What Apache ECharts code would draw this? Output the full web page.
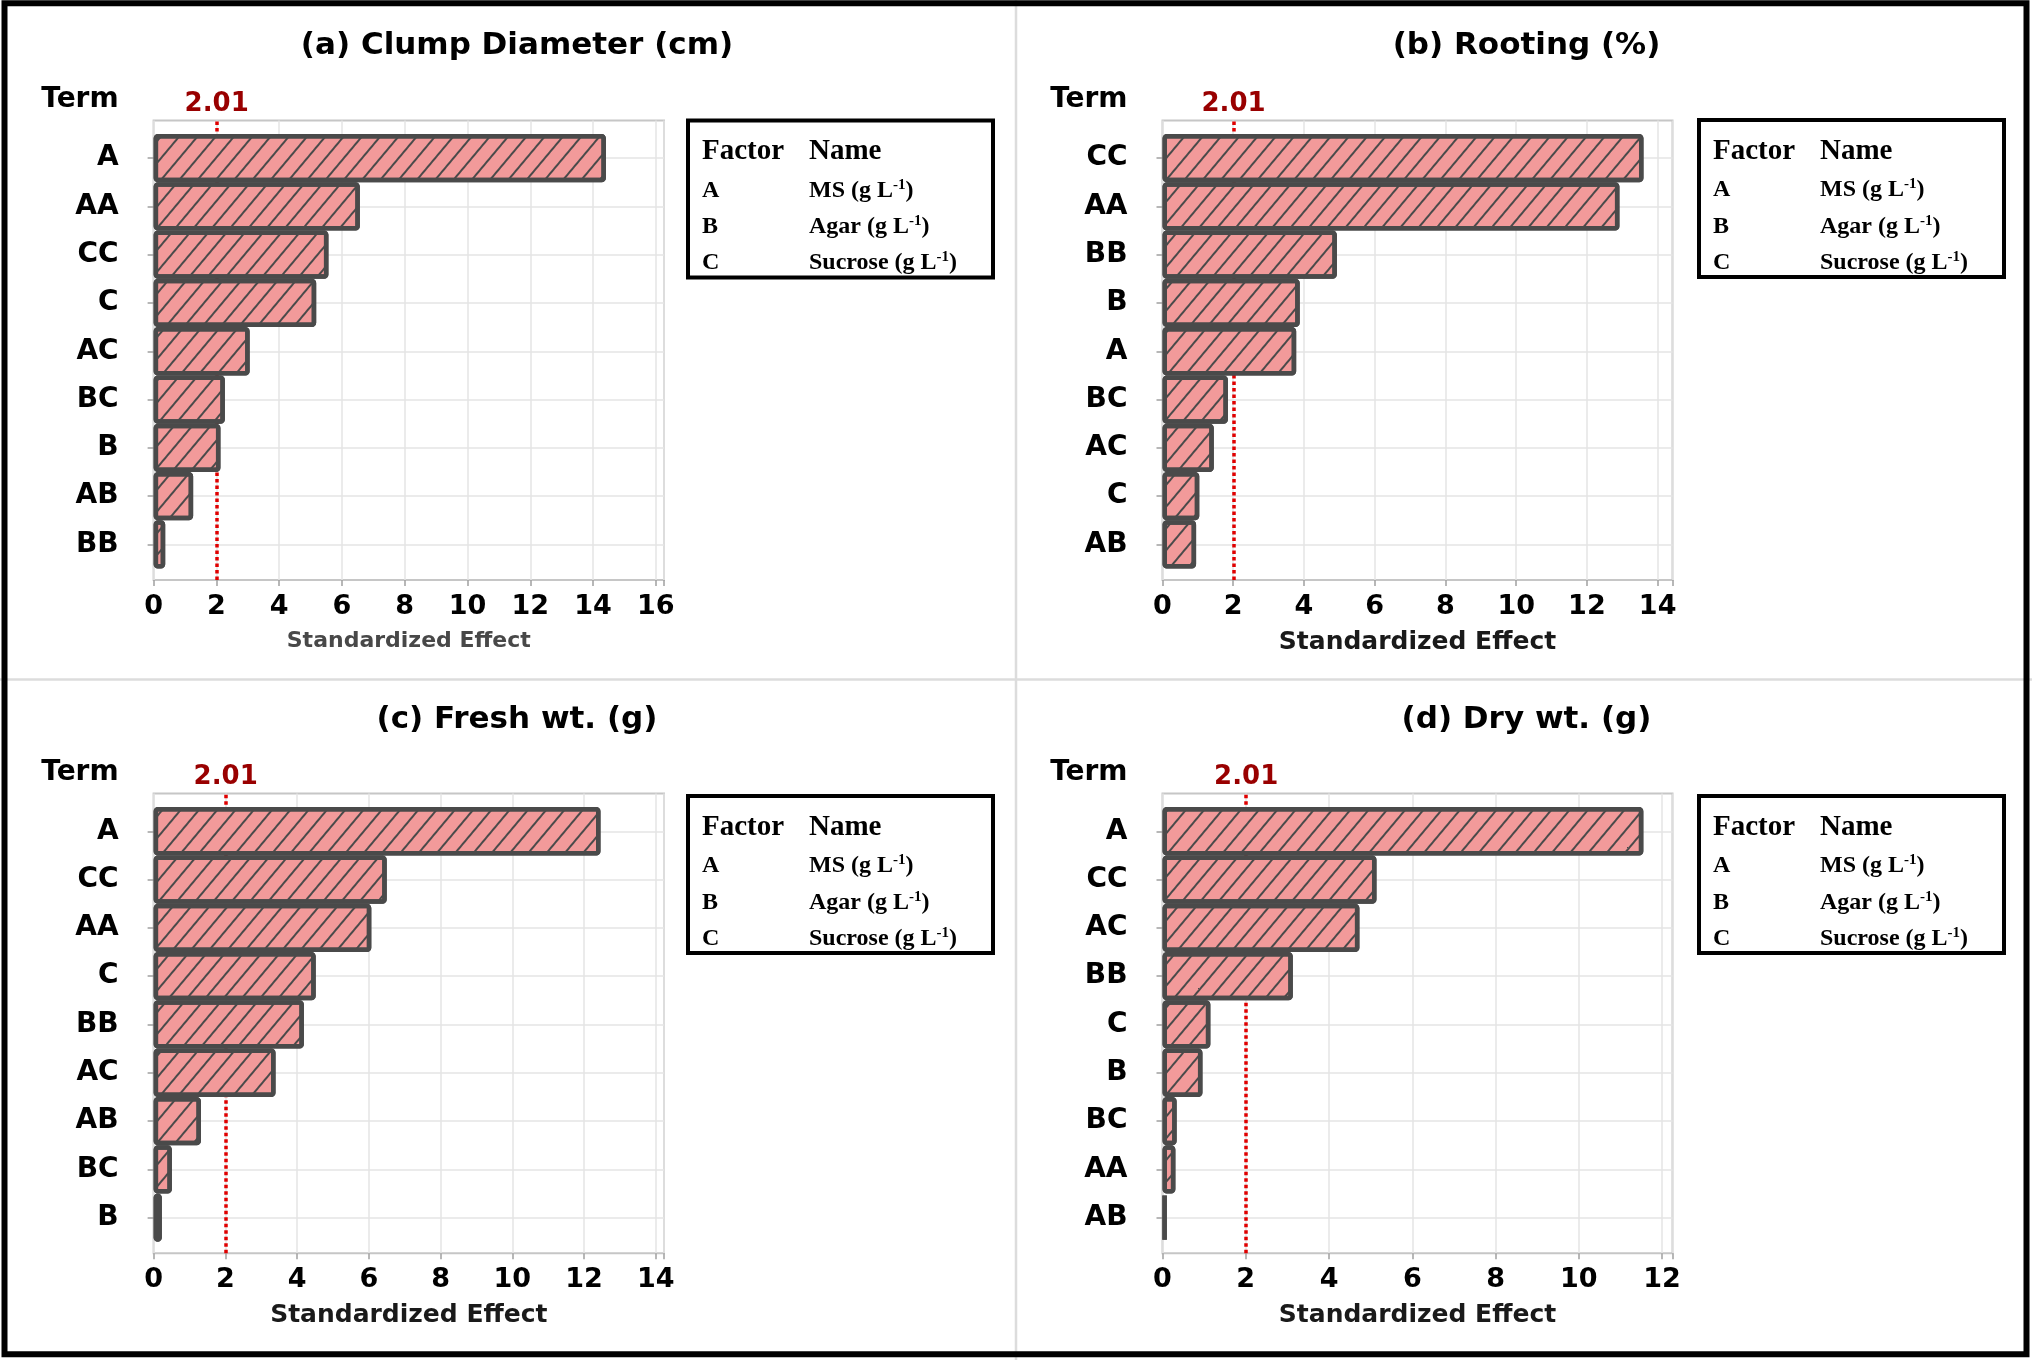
<!DOCTYPE html>
<html>
<head>
<meta charset="utf-8">
<script src="https://cdn.jsdelivr.net/npm/echarts@6/dist/echarts.min.js"></script>
<style>
html,body{margin:0;padding:0;background:#fff;}
#chart{width:2032px;height:1360px;}
</style>
</head>
<body>
<div id="chart"></div>
<script>
// ---------- data ----------
const titles = ['(a) Clump Diameter (cm)', '(b) Rooting (%)', '(c) Fresh wt. (g)', '(d) Dry wt. (g)'];
const termsA = ['A', 'AA', 'CC', 'C', 'AC', 'BC', 'B', 'AB', 'BB'];
const effectsA = [14.41, 6.57, 5.57, 5.18, 3.06, 2.27, 2.13, 1.26, 0.37];
const termsB = ['CC', 'AA', 'BB', 'B', 'A', 'BC', 'AC', 'C', 'AB'];
const effectsB = [13.60, 12.92, 4.93, 3.88, 3.78, 1.85, 1.45, 1.04, 0.95];
const termsC = ['A', 'CC', 'AA', 'C', 'BB', 'AC', 'AB', 'BC', 'B'];
const effectsC = [12.46, 6.50, 6.07, 4.52, 4.19, 3.40, 1.32, 0.51, 0.23];
const termsD = ['A', 'CC', 'AC', 'BB', 'C', 'B', 'BC', 'AA', 'AB'];
const effectsD = [11.55, 5.14, 4.73, 3.13, 1.15, 0.96, 0.34, 0.31, 0.10];
const axisMax = [16.26, 14.42, 14.23, 12.25];
const tickStep = 2;
const threshold = 2.01;
const xAxisName = 'Standardized Effect';
const yAxisName = 'Term';
const factorHeader = ['Factor', 'Name'];
const factorCodes = ['A', 'B', 'C'];
const factorNames = ['MS', 'Agar', 'Sucrose'];
const factorUnit = 'g L';
const factorUnitExp = '-1';

const termsList = [termsA, termsB, termsC, termsD];
const effectsList = [effectsA, effectsB, effectsC, effectsD];

// ---------- layout ----------
const panels = [
  {fl: 153.6, fr: 664, ft: 120.5, fb: 580, tx: 512, ty: 25, bx: 688, by: 120.5},
  {fl: 1162.5, fr: 1672.5, ft: 120.5, fb: 580, tx: 1521.5, ty: 25, bx: 1699, by: 120},
  {fl: 153.6, fr: 664, ft: 793.6, fb: 1253.3, tx: 512, ty: 699, bx: 688, by: 796},
  {fl: 1162.5, fr: 1672.5, ft: 793.6, fb: 1253.3, tx: 1521.5, ty: 699, bx: 1699, by: 796}
];
const padTop = 13.5, padBottom = 11.5;

const grids = [], xAxes = [], yAxes = [], series = [], titleArr = [], graphics = [];

panels.forEach((p, i) => {
  const w = p.fr - p.fl, h = p.fb - p.ft;
  const nameStyle = i === 0
    ? {fontFamily: 'DejaVu Sans', fontWeight: 'bold', fontSize: 22, color: '#484848'}
    : {fontFamily: 'DejaVu Sans', fontWeight: 'bold', fontSize: 25, color: '#1a1a1a'};
  // frame grid
  grids.push({left: p.fl, top: p.ft, width: w, height: h, show: true,
    borderColor: '#c6c6c6', borderWidth: 2, backgroundColor: 'transparent',
    outerBoundsMode: 'none', containLabel: false});
  // bar grid
  grids.push({left: p.fl, top: p.ft + padTop, width: w, height: h - padTop - padBottom, show: false,
    outerBoundsMode: 'none', containLabel: false});

  xAxes.push({
    type: 'value', gridIndex: 2 * i, min: 0, max: axisMax[i], interval: tickStep,
    axisLine: {show: false},
    axisTick: {show: true, length: 6, lineStyle: {color: '#a0a0a0', width: 1.5}},
    axisLabel: {margin: 13, fontFamily: 'DejaVu Sans', fontWeight: 'bold', fontSize: 27, color: '#000',
      formatter: v => (Math.abs(v / tickStep - Math.round(v / tickStep)) < 1e-6 ? String(v) : '')},
    splitLine: {show: true, lineStyle: {color: '#e4e4e4', width: 1.5}},
    name: xAxisName, nameLocation: 'middle', nameGap: 50, nameTextStyle: nameStyle
  });
  xAxes.push({type: 'value', gridIndex: 2 * i + 1, min: 0, max: axisMax[i], show: false, splitLine: {show: false}});

  yAxes.push({type: 'value', gridIndex: 2 * i, min: 0, max: 1, show: false, splitLine: {show: false}});
  yAxes.push({
    type: 'category', gridIndex: 2 * i + 1, data: termsList[i], inverse: true,
    axisLine: {show: false},
    axisTick: {show: true, alignWithLabel: true, length: 6, lineStyle: {color: '#a0a0a0', width: 1.5}},
    axisLabel: {margin: 35, fontFamily: 'DejaVu Sans', fontWeight: 'bold', fontSize: 28, color: '#000'},
    splitLine: {show: true, alignWithLabel: true, lineStyle: {color: '#e4e4e4', width: 1.5}}
  });

  // threshold line on the frame grid (drawn beneath the bars)
  series.push({
    type: 'line', xAxisIndex: 2 * i, yAxisIndex: 2 * i, data: [], z: 1, silent: true,
    markLine: {
      z: 1, silent: true, symbol: ['none', 'none'], animation: false,
      lineStyle: {color: '#e00000', width: 3.5, type: [3.5, 3]},
      label: {show: true, position: 'end', distance: 3, formatter: () => threshold.toFixed(2),
        fontFamily: 'DejaVu Sans', fontWeight: 'bold', fontSize: 26, color: '#990000'},
      data: [{xAxis: threshold}]
    }
  });
  // bars
  series.push({
    type: 'bar', xAxisIndex: 2 * i + 1, yAxisIndex: 2 * i + 1, data: effectsList[i],
    barCategoryGap: '0%', z: 3, animation: false,
    itemStyle: {
      color: '#f29a9a', borderColor: '#4a4a4a', borderWidth: 4.5, borderRadius: 2,
      decal: {symbol: 'rect', symbolSize: 1, dashArrayX: [1, 0], dashArrayY: [2, 12],
        rotation: -Math.PI * 50 / 180, color: '#4a4a4a'}
    }
  });

  titleArr.push({text: titles[i], left: p.tx, top: p.ty, textAlign: 'center',
    textStyle: {fontFamily: 'DejaVu Sans', fontWeight: 'bold', fontSize: 31, color: '#000'}});

  // "Term"
  graphics.push({type: 'text', x: p.fl - 35, y: p.ft - 21, z: 10,
    style: {text: yAxisName, fontFamily: 'DejaVu Sans', fontWeight: 'bold', fontSize: 28, fill: '#000',
      align: 'right', verticalAlign: 'middle'}});

  // factor box
  const rows = [];
  rows.push({type: 'rect', shape: {x: 0, y: 0, width: 305, height: 157},
    style: {fill: '#fff', stroke: '#000', lineWidth: 4}});
  rows.push({type: 'text', x: 14, y: 31.5, style: {text: factorHeader[0], fontFamily: 'Liberation Serif',
    fontWeight: 'bold', fontSize: 29, fill: '#000', verticalAlign: 'middle'}});
  rows.push({type: 'text', x: 121, y: 31.5, style: {text: factorHeader[1], fontFamily: 'Liberation Serif',
    fontWeight: 'bold', fontSize: 29, fill: '#000', verticalAlign: 'middle'}});
  factorCodes.forEach((c, k) => {
    const yy = 70 + k * 36.3;
    rows.push({type: 'text', x: 14, y: yy, style: {text: c, fontFamily: 'Liberation Serif',
      fontWeight: 'bold', fontSize: 24, fill: '#000', verticalAlign: 'middle'}});
    rows.push({type: 'text', x: 121, y: yy, style: {
      text: '{t|' + factorNames[k] + ' (' + factorUnit + '}{s|' + factorUnitExp + '}{t|)}',
      verticalAlign: 'middle',
      rich: {
        t: {fontFamily: 'Liberation Serif', fontWeight: 'bold', fontSize: 24, fill: '#000', lineHeight: 26},
        s: {fontFamily: 'Liberation Serif', fontWeight: 'bold', fontSize: 15, fill: '#000', verticalAlign: 'top', lineHeight: 26}
      }}});
  });
  graphics.push({type: 'group', x: p.bx, y: p.by, z: 10, children: rows});
});

// dividers and outer frame
graphics.push({type: 'line', z: 0, shape: {x1: 1016, y1: 0, x2: 1016, y2: 1360}, style: {stroke: '#dcdcdc', lineWidth: 2.5}});
graphics.push({type: 'line', z: 0, shape: {x1: 0, y1: 679.5, x2: 2032, y2: 679.5}, style: {stroke: '#dcdcdc', lineWidth: 2.5}});
graphics.push({type: 'rect', z: 20, shape: {x: 4.5, y: 3.3, width: 2022, height: 1351},
  style: {fill: 'none', stroke: '#000', lineWidth: 6}});

const chart = echarts.init(document.getElementById('chart'), null, {renderer: 'canvas'});
chart.setOption({
  backgroundColor: '#fff',
  animation: false,
  title: titleArr,
  grid: grids,
  xAxis: xAxes,
  yAxis: yAxes,
  series: series,
  graphic: graphics
});
</script>
</body>
</html>
